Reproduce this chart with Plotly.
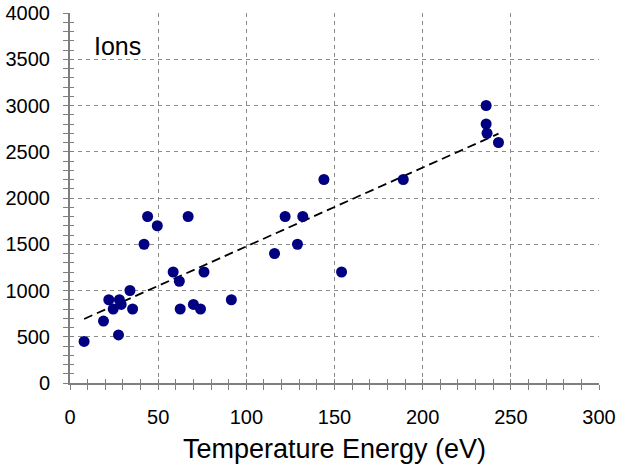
import numpy as np
import plotly.graph_objects as go

# Ion measurements: temperature energy (eV) vs. value
energy_ev = [8, 19, 27.5, 22, 24.5, 28, 29, 34, 35.5, 42, 44, 49.5, 58.5, 62, 62.5,
             67, 70, 74, 76, 91.5, 116, 122, 129, 132, 144, 154, 189, 236, 236,
             236.5, 243]
ion_value = [450, 670, 520, 900, 800, 900, 850, 1000, 800, 1500, 1800, 1700, 1200,
             1100, 800, 1800, 850, 800, 1200, 900, 1400, 1800, 1500, 1800, 2200,
             1200, 2200, 3000, 2800, 2700, 2600]

x_ticks = [0, 50, 100, 150, 200, 250, 300]
y_ticks = [0, 500, 1000, 1500, 2000, 2500, 3000, 3500, 4000]

# Least-squares trend line over the span of the data
slope, intercept = np.polyfit(energy_ev, ion_value, 1)
fit_x = np.array([min(energy_ev), max(energy_ev)])
fit_y = slope * fit_x + intercept

NAVY = "#000080"
AXIS_GREY = "#7f7f7f"
FONT = "Liberation Sans, Arial, Helvetica, sans-serif"

fig = go.Figure()
fig.add_trace(go.Scatter(
    x=fit_x, y=fit_y, mode="lines",
    line=dict(color="black", width=1.8, dash="9px,5px"),
    hoverinfo="skip", showlegend=False,
))
fig.add_trace(go.Scatter(
    x=energy_ev, y=ion_value, mode="markers",
    marker=dict(color=NAVY, size=11, line=dict(width=0)),
    showlegend=False,
))
# placeholder on the overlay axes so their inner tick marks are drawn
fig.add_trace(go.Scatter(x=[None], y=[None], xaxis="x2", yaxis="y2",
                         showlegend=False, hoverinfo="skip"))

grid = dict(showgrid=True, gridcolor="#8c8c8c", gridwidth=1, griddash="4px,4px")

fig.update_layout(
    width=618, height=469,
    margin=dict(l=70, r=19, t=13, b=86, autoexpand=False),
    paper_bgcolor="white", plot_bgcolor="white",
    font=dict(family=FONT, color="black", size=20),
    xaxis=dict(
        range=[0, 300], tickvals=x_ticks, ticktext=[str(v) for v in x_ticks],
        ticks="outside", ticklen=5, tickwidth=1, tickcolor=AXIS_GREY,
        minor=dict(dtick=10, ticks="outside", ticklen=5, tickwidth=1,
                   tickcolor=AXIS_GREY, showgrid=False),
        showline=True, linecolor=AXIS_GREY, linewidth=2,
        ticklabelstandoff=10, tickfont=dict(size=20), automargin=False,
        title=dict(text="Temperature Energy (eV)", font=dict(size=27), standoff=12),
        zeroline=False, **grid,
    ),
    yaxis=dict(
        range=[0, 4000], tickvals=y_ticks, ticktext=[str(v) for v in y_ticks],
        ticks="outside", ticklen=5, tickwidth=1, tickcolor=AXIS_GREY,
        minor=dict(dtick=100, ticks="outside", ticklen=5, tickwidth=1,
                   tickcolor=AXIS_GREY, showgrid=False),
        showline=True, linecolor=AXIS_GREY, linewidth=2,
        ticklabelstandoff=9, tickfont=dict(size=20), automargin=False,
        zeroline=False, **grid,
    ),
    xaxis2=dict(
        overlaying="x", anchor="y2", range=[0, 300], tickvals=x_ticks,
        ticks="inside", ticklen=4, tickwidth=1, tickcolor=AXIS_GREY,
        minor=dict(dtick=10, ticks="inside", ticklen=4, tickwidth=1,
                   tickcolor=AXIS_GREY),
        showticklabels=False, showgrid=False, showline=False, zeroline=False,
        automargin=False,
    ),
    yaxis2=dict(
        overlaying="y", anchor="x2", range=[0, 4000], tickvals=y_ticks,
        ticks="inside", ticklen=4, tickwidth=1, tickcolor=AXIS_GREY,
        minor=dict(dtick=100, ticks="inside", ticklen=4, tickwidth=1,
                   tickcolor=AXIS_GREY),
        showticklabels=False, showgrid=False, showline=False, zeroline=False,
        automargin=False,
    ),
    annotations=[dict(
        text="Ions", xref="paper", yref="paper", x=0.042, y=0.912,
        xanchor="left", yanchor="middle", showarrow=False,
        font=dict(size=25, family=FONT, color="black"),
    )],
)

fig.write_html("out.html")
